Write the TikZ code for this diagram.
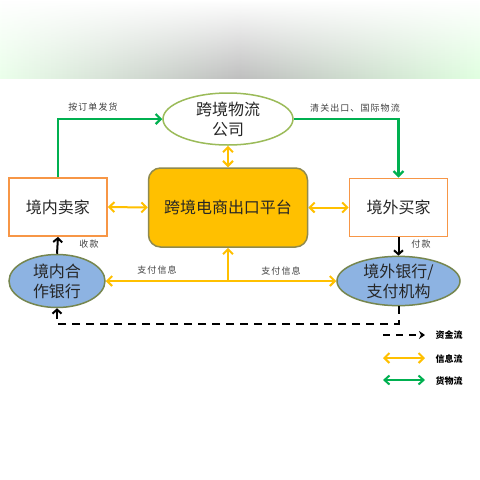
\documentclass[tikz,border=0pt]{standalone}
\usepackage{fontspec}
\newfontfamily\cjk{Noto Sans CJK SC}
\newfontfamily\cjklbl[LetterSpace=12]{Noto Sans CJK SC}
\usetikzlibrary{arrows.meta,shapes.geometric,fadings}
\definecolor{boxorange}{HTML}{F79646}
\definecolor{gold}{HTML}{FFC000}
\definecolor{flowgreen}{HTML}{00B050}
\definecolor{olivegreen}{HTML}{9BBB59}
\definecolor{bankblue}{HTML}{8DB3E2}
\definecolor{bankborder}{HTML}{76864F}
\definecolor{platborder}{HTML}{8F8A4F}
\definecolor{labelgray}{HTML}{404040}
\begin{document}
\begin{tikzpicture}[x=1pt,y=-1pt,
  bigtext/.style={font=\cjk\fontsize{16}{20}\selectfont, text=black!85},
  boxnode/.style={bigtext, draw=boxorange, line width=1.8pt, fill=white, minimum width=98pt, minimum height=58pt, inner sep=0pt},
  banknode/.style={bigtext, ellipse, draw=bankborder, line width=1.5pt, fill=bankblue, inner sep=0pt, align=center},
  lbl/.style={font=\cjklbl\fontsize{9}{10}\selectfont, text=labelgray},
  legtext/.style={font=\cjk\bfseries\fontsize{9}{10}\selectfont, text=black, anchor=west},
  gline/.style={draw=flowgreen, line width=2.2pt, -{Straight Barb[length=5pt,width=10pt]}},
  oline/.style={draw=gold, line width=2pt},
  otip/.style={-{Straight Barb[length=5pt,width=10pt]}},
  otips/.style={{Straight Barb[length=5pt,width=10pt]}-{Straight Barb[length=5pt,width=10pt]}},
  kline/.style={draw=black, line width=2pt, -{Straight Barb[length=4pt,width=9pt]}},
]
\useasboundingbox (0,0) rectangle (480,480);
\fill[white] (0,0) rectangle (480,480);
\shade[left color=green!8!white, right color=green!12!white, middle color=black!25] (0,0) rectangle (480,78);
\fill[white, path fading=south] (0,0) rectangle (480,78);

% nodes
\node[bigtext, ellipse, draw=olivegreen, line width=1.5pt, fill=white, minimum width=130pt, minimum height=52pt, inner sep=0pt, align=center] (log) at (228,119) {跨境物流\\公司};
\node[bigtext, rounded corners=12pt, draw=platborder, line width=1.5pt, fill=gold, minimum width=159pt, minimum height=79pt, inner sep=0pt] (plat) at (228,207.5) {跨境电商出口平台};
\node[boxnode] (seller) at (58,207) {境内卖家};
\node[boxnode] (buyer) at (398.5,207.5) {境外买家};
\node[banknode, minimum width=96pt, minimum height=53pt] (dbank) at (57,281) {境内合\\作银行};
\node[banknode, minimum width=123pt, minimum height=49pt] (fbank) at (398.5,281) {境外银行/\\支付机构};

% goods flow
\draw[gline] (seller.north) |- (log.west);
\draw[gline] (log.east) -| (buyer.north);
\node[lbl] (l1) at (93,107) {按订单发货};
\node[lbl] (l2) at (355,108) {清关出口、国际物流};

% information flow
\draw[oline, otips] (log.south) -- (plat.north);
\draw[oline, otips] (seller.east) -- (plat.west);
\draw[oline, otips] (plat.east) -- (buyer.west);
\coordinate (j) at (228,281);
\draw[oline, otip] (j) -- (plat.south);
\draw[oline, otip] (j) -- (dbank.east);
\draw[oline, otip] (j) -- (fbank.west);
\node[lbl] (l3) at (157,270) {支付信息};
\node[lbl] (l4) at (281,271) {支付信息};

% money flow
\draw[kline] (dbank.north) -- (seller.south);
\draw[kline] (buyer.south) -- (fbank.north);
\node[lbl] (l5) at (89,244) {收款};
\node[lbl] (l6) at (421,244) {付款};
\coordinate (d2) at (57,324);
\draw[kline, dash pattern=on 8pt off 6pt] (fbank.south) |- (d2) -- (dbank.south);

% legend
\coordinate (a1) at (383,335); \coordinate (a2) at (425,335);
\coordinate (b1) at (383,358); \coordinate (b2) at (425,358);
\coordinate (c1) at (383,380); \coordinate (c2) at (425,380);
\draw[black, line width=2pt, dash pattern=on 7pt off 6pt, -{Stealth[length=6pt,width=8pt]}] (a1) -- (a2);
\draw[oline, otips] (b1) -- (b2);
\draw[draw=flowgreen, line width=2pt, {Straight Barb[length=5pt,width=9pt]}-{Straight Barb[length=5pt,width=9pt]}] (c1) -- (c2);
\node[legtext] (t1) at (432,335) {资金流};
\node[legtext] (t2) at (432,359) {信息流};
\node[legtext] (t3) at (432,381) {货物流};
\end{tikzpicture}
\end{document}
